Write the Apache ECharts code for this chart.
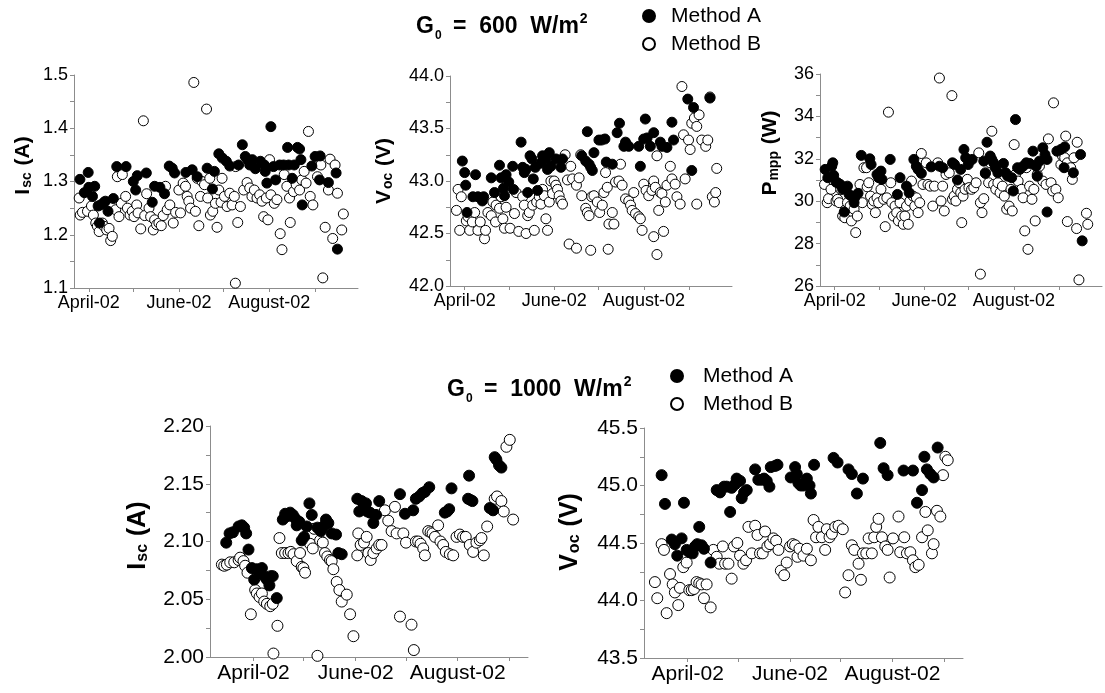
<!doctype html>
<html>
<head>
<meta charset="utf-8">
<title>Isc, Voc, Pmpp - Method A / Method B</title>
<style>
  html, body { margin: 0; padding: 0; background: #fff; }
  #chart { width: 1105px; height: 693px; }
</style>
</head>
<body>
<div id="chart"></div>
<script src="https://cdn.jsdelivr.net/npm/echarts@6/dist/echarts.min.js"></script>
<script>
// x values are day of year 2002 (April 1 = 91, June 1 = 152, August 1 = 213)
var monthTickDays = [91, 121, 152, 182, 213, 244];
var monthLabelDays = [91, 152, 213];
var monthLabels = ['April-02', 'June-02', 'August-02'];
var seriesNames = ['Method A', 'Method B'];

// G0 = 600 W/m2, Isc (A)
var isc600A = [[85,1.304],[88,1.279],[90.6,1.317],[91,1.289],[93.5,1.272],[95,1.291],[97.3,1.254],[99,1.256],[101.3,1.261],[98.2,1.222],[102.2,1.263],[104,1.244],[107.6,1.268],[109.9,1.328],[116.2,1.328],[121.1,1.300],[122.7,1.284],[123.8,1.311],[129.9,1.316],[133.9,1.261],[135.5,1.291],[139.1,1.289],[142.2,1.277],[145.4,1.329],[147.4,1.325],[149,1.316],[156.6,1.317],[160.9,1.322],[164.3,1.309],[171,1.325],[174.6,1.286],[175.9,1.319],[178.9,1.352],[181.3,1.344],[184,1.338],[186.3,1.329],[192.3,1.331],[194.8,1.369],[196.8,1.347],[198.4,1.341],[199.8,1.331],[201.6,1.341],[203.6,1.324],[207,1.338],[209.7,1.331],[210.3,1.319],[211.4,1.297],[214.1,1.403],[215.9,1.328],[217.3,1.303],[220,1.331],[222.7,1.331],[225.4,1.364],[226.1,1.331],[228.5,1.306],[229.9,1.331],[232.1,1.364],[233.5,1.361],[234.4,1.341],[235.3,1.256],[241.8,1.329],[244,1.347],[247.4,1.348],[247,1.303],[253,1.298],[258.2,1.316],[259.1,1.173]];
var isc600B = [[84.5,1.269],[85.2,1.237],[86.7,1.242],[90.1,1.244],[92.8,1.254],[94.1,1.237],[95.7,1.222],[96.8,1.216],[98,1.206],[100.2,1.222],[101.3,1.216],[103.1,1.209],[104.7,1.212],[105.8,1.189],[106.9,1.197],[109.2,1.247],[111.4,1.234],[113,1.259],[110.3,1.309],[113.7,1.313],[115.9,1.272],[117.1,1.250],[118.9,1.237],[120.4,1.244],[121.6,1.234],[123.4,1.256],[124.3,1.241],[126.1,1.211],[127.9,1.414],[128.8,1.236],[130.1,1.277],[131.7,1.250],[132.8,1.234],[134.6,1.209],[135.5,1.228],[136.8,1.219],[138.4,1.222],[140,1.217],[141.3,1.236],[142.9,1.291],[144,1.247],[145.8,1.256],[148.1,1.222],[149.7,1.242],[151.9,1.284],[153,1.241],[154.8,1.297],[156.4,1.291],[157.5,1.272],[158.6,1.263],[159.8,1.250],[162,1.486],[163.1,1.244],[164.3,1.306],[165.4,1.217],[166.5,1.272],[167.6,1.300],[169.2,1.294],[170.6,1.436],[171.4,1.269],[172.8,1.306],[173.2,1.237],[174.8,1.244],[176.6,1.259],[177.7,1.214],[178.9,1.284],[180.4,1.261],[181.1,1.306],[182.7,1.272],[184.5,1.253],[186.3,1.278],[187.9,1.256],[189.4,1.272],[190.3,1.328],[191.7,1.223],[193.5,1.253],[195.7,1.284],[198,1.298],[199.8,1.288],[201.3,1.272],[202.9,1.284],[204.7,1.269],[206.5,1.275],[208.1,1.263],[209.2,1.234],[211,1.269],[212.1,1.228],[213.2,1.341],[214.1,1.275],[216.4,1.259],[218.2,1.266],[220.4,1.202],[221.6,1.172],[223.1,1.313],[224.9,1.291],[226.7,1.269],[227.2,1.223],[229.4,1.281],[231.2,1.294],[233.5,1.284],[235,1.303],[236.6,1.319],[237.9,1.297],[239.5,1.394],[240.7,1.272],[242.5,1.256],[245.6,1.309],[247.9,1.331],[249.2,1.119],[250.8,1.214],[253,1.284],[254.1,1.342],[255.9,1.193],[257.5,1.331],[259.1,1.278],[262,1.209],[263.1,1.239],[190.1,1.109]];

// G0 = 600 W/m2, Voc (V)
var voc600A = [[89.4,43.19],[91,43.08],[91.7,42.96],[92.6,42.70],[96.6,42.85],[98.4,43.06],[100,42.85],[103,42.81],[103.9,42.85],[109.1,43.03],[111.3,42.89],[114.7,43.15],[115.8,43.03],[117.4,42.93],[118.1,42.86],[119.2,43.06],[121,42.99],[123.7,43.14],[124.2,42.92],[129.4,43.37],[130.5,43.13],[131.6,43.08],[132.8,43.11],[133.9,42.89],[135.5,43.24],[136.8,43.21],[137.7,43.02],[139.1,43.13],[140.6,42.91],[142.9,43.17],[144,43.24],[146.3,43.21],[147.4,43.11],[148.6,43.27],[149.7,43.14],[153.1,43.21],[156.5,43.13],[157.6,43.21],[170.7,43.24],[173.4,43.19],[174.5,43.47],[175.7,43.16],[176.8,43.13],[177.9,43.10],[179,43.27],[182.4,43.39],[184.2,43.39],[186.5,43.40],[187.4,43.18],[191.5,43.16],[194.8,43.46],[196.4,43.55],[199.4,43.33],[200.5,43.37],[202.7,43.33],[209.5,43.33],[210.6,43.14],[212.9,43.40],[214,43.59],[215.2,43.41],[217.4,43.33],[219.7,43.46],[224.2,43.37],[225.3,43.33],[228.7,43.32],[232.1,43.56],[233.2,43.39],[242.9,43.78],[246.8,43.70],[245.6,43.10],[258,43.79]];
var voc600B = [[85.4,42.72],[86.5,42.92],[87.6,42.53],[88.7,42.85],[92.1,42.62],[93.3,42.66],[94.4,42.53],[96.2,42.61],[97.8,42.70],[100,42.53],[101.6,42.61],[104.5,42.45],[105.2,42.53],[106.8,42.70],[109.1,42.67],[110.2,42.80],[112,42.61],[112.4,42.77],[114.7,42.74],[115.8,42.85],[117,42.64],[118.1,42.55],[119.2,42.75],[121.9,42.55],[124.9,42.69],[126,42.89],[127.8,42.52],[130.5,42.85],[131.6,42.77],[132.8,42.50],[133.9,42.67],[135,42.70],[137.3,42.77],[138.4,42.53],[140,42.80],[141.8,42.85],[142.9,42.78],[144,42.92],[145.2,42.86],[146.3,42.64],[147.4,42.53],[148.6,42.80],[149.7,43.00],[150.8,42.88],[151.9,43.00],[153.1,42.96],[154.2,42.92],[155.3,42.86],[156.5,42.81],[157.6,42.78],[159.4,43.25],[161,43.01],[162.1,42.40],[163.2,43.14],[164.4,43.02],[167.1,42.96],[167.1,42.36],[168.9,43.03],[170,43.25],[170.7,42.86],[173.4,42.74],[174.5,42.70],[175.7,42.67],[176.8,42.34],[177.5,42.85],[179,42.86],[181.3,42.80],[182.9,42.70],[184.7,42.77],[185.8,42.89],[186.9,43.08],[188.1,42.94],[188.7,42.35],[189.2,42.59],[191.5,42.70],[192.6,42.59],[193.7,42.99],[196,43.00],[197.1,43.16],[198.2,42.96],[200.5,42.83],[202.7,42.81],[203.9,42.77],[205,42.72],[206.1,42.89],[207.3,42.69],[209.5,42.66],[210.6,42.64],[211.8,42.53],[212.9,42.97],[214.5,42.91],[216.3,42.86],[218.5,42.91],[219.7,43.00],[219.7,42.47],[220.8,42.94],[221.9,43.24],[221.9,42.30],[223.1,42.72],[224.2,42.89],[225.3,42.88],[226.4,42.52],[227.6,42.80],[228.7,42.96],[231,43.14],[232.1,43.02],[234.3,42.97],[235.5,42.85],[237.7,42.78],[238.9,43.90],[240,43.44],[241.1,43.02],[243.4,43.39],[244.5,43.30],[245.6,43.55],[247.4,43.60],[249,43.52],[250.6,43.63],[252.4,43.39],[255.1,43.33],[256.5,43.39],[258,43.80],[249,42.78],[259.6,42.85],[261,42.80],[261.9,42.89],[262.6,43.12]];

// G0 = 600 W/m2, Pmpp (W)
var pmpp600A = [[84.5,31.50],[86.3,31.11],[89,31.65],[89.7,31.81],[90.3,31.22],[91.9,30.90],[93,30.87],[94.8,30.79],[96.4,30.56],[97.5,29.49],[98.6,30.64],[99.7,30.71],[100.8,30.32],[102.4,30.24],[104.2,29.93],[104.6,30.16],[106.9,30.37],[109.1,32.16],[114.9,32.00],[115.8,31.73],[119.8,31.26],[120.9,31.11],[122.5,31.42],[123.2,31.03],[128.8,31.97],[133.7,30.32],[135.5,31.11],[139.9,30.71],[141.7,30.40],[144.9,31.97],[146.6,31.65],[147.8,31.50],[150,31.31],[156.7,31.62],[162.3,31.65],[164.5,31.58],[171.2,31.81],[172.6,31.73],[174.6,31.00],[176.8,31.50],[179,32.44],[180.2,32.05],[181.9,31.73],[184.6,31.97],[192.5,31.89],[193.6,31.31],[194.7,32.78],[196.9,32.13],[198,31.97],[199.2,31.81],[200.3,31.58],[202.1,31.34],[205.9,31.78],[207.4,31.34],[208.8,31.18],[211.5,31.11],[212.6,30.48],[214.1,33.85],[215.5,31.58],[217,31.50],[219.3,31.65],[221.5,31.81],[223.7,31.78],[226,32.36],[228.2,31.65],[228.9,31.18],[230.4,31.89],[232.7,32.52],[234.2,32.20],[235.6,31.97],[235.6,29.49],[242.3,32.36],[245,32.44],[247.6,32.56],[247.2,31.58],[253.5,31.34],[258.4,32.20],[259.5,28.13]];
var pmpp600B = [[84.1,30.79],[85.9,29.93],[86.8,30.12],[88.5,30.56],[91.9,30.01],[93,30.09],[94.1,29.93],[95.2,30.56],[96.4,29.30],[97.9,29.22],[98.6,29.62],[99.7,29.93],[101.5,29.77],[102.4,29.07],[104.2,29.62],[105.3,28.52],[106.4,29.30],[108.2,30.79],[109.8,29.93],[110.9,31.58],[112.7,31.58],[113.1,30.68],[114.2,30.87],[115.4,30.24],[116.5,29.85],[117.6,30.01],[118.7,29.46],[119.8,30.16],[120.9,29.93],[122.5,30.56],[124.3,30.09],[125.4,28.80],[126.5,30.16],[127.6,34.20],[129.2,30.87],[129.9,29.93],[131,29.30],[132.1,29.77],[133.2,29.46],[134.4,29.07],[135.5,29.93],[136.6,29.30],[137.7,28.91],[138.8,29.30],[139.9,29.77],[141.1,28.91],[142.2,30.01],[143.3,30.95],[144.4,30.24],[145.5,29.77],[146.6,30.16],[147.8,29.46],[148.9,29.93],[150,32.25],[151.1,30.79],[153.3,31.81],[154.5,30.79],[156,30.71],[157.8,29.77],[158.9,30.71],[161.2,31.81],[162.3,35.81],[163.4,30.01],[164.5,30.71],[165.6,29.54],[166.8,31.26],[169,31.34],[170.8,34.98],[171.2,30.09],[172.3,30.24],[173.5,30.01],[174.6,30.56],[175.7,30.87],[176.8,30.40],[177.5,28.99],[178.4,30.24],[179.7,30.56],[181.3,31.03],[182.4,30.64],[184.2,30.56],[185.7,30.64],[187.3,30.87],[189.1,32.28],[190.2,29.93],[190.2,26.56],[191.3,29.46],[192.5,30.12],[193.6,31.34],[195.8,30.87],[196.9,31.81],[198,33.30],[199.2,30.79],[200.7,30.56],[202.1,30.87],[203.6,30.40],[205.2,30.71],[206.5,30.24],[208.1,29.62],[209.7,29.77],[211,30.56],[211.9,29.54],[213.2,32.67],[214.1,31.26],[215.9,30.95],[218.2,30.56],[219.3,30.16],[220.4,28.60],[221.5,31.58],[222.6,27.73],[223.7,30.71],[225.3,30.09],[226.6,30.56],[227.5,29.07],[228.9,31.26],[230.4,31.65],[232.7,30.95],[234.9,30.79],[236.5,32.94],[238.3,30.87],[239.4,30.48],[240,34.64],[241.6,30.56],[243.2,30.16],[245,31.73],[246.1,32.13],[247.6,32.05],[248.3,33.07],[249.4,31.81],[249.4,29.04],[251.7,31.58],[252.8,31.03],[253.9,32.05],[255.7,28.71],[256.1,32.78],[257.3,26.29],[262.4,29.43],[263.3,28.91]];

// G0 = 1000 W/m2, Isc (A)
var isc1000A = [[74.7,2.099],[76.7,2.107],[78.7,2.108],[82.1,2.113],[84,2.114],[85.4,2.112],[86.6,2.107],[88,2.093],[90,2.077],[91.4,2.067],[93,2.076],[95,2.073],[96,2.077],[97.4,2.070],[99,2.067],[100.5,2.062],[101.3,2.070],[102.5,2.070],[104.9,2.051],[108.5,2.119],[109.9,2.124],[111.3,2.122],[112.9,2.125],[114.5,2.123],[115.9,2.120],[116.8,2.114],[118.4,2.117],[119.8,2.101],[121.2,2.104],[122.8,2.113],[124.4,2.133],[125.8,2.123],[129.2,2.112],[131.2,2.109],[132.7,2.113],[134.3,2.119],[135.7,2.116],[137.7,2.107],[140.3,2.106],[141.7,2.090],[143.7,2.089],[153,2.137],[154.2,2.126],[155.6,2.135],[157,2.129],[158.2,2.133],[159,2.126],[160.6,2.125],[162.6,2.116],[164.2,2.123],[166.1,2.135],[178.5,2.141],[181.5,2.124],[186.4,2.127],[188,2.137],[190,2.139],[192,2.142],[193.4,2.143],[196,2.147],[205.3,2.125],[206.7,2.126],[207.9,2.128],[209.3,2.146],[219.8,2.157],[219.2,2.137],[220.6,2.136],[221.8,2.135],[232.2,2.129],[234.1,2.127],[235.1,2.173],[236.1,2.171],[237.7,2.166],[239.1,2.164]];
var isc1000B = [[72.1,2.080],[73.5,2.079],[75.1,2.080],[77.1,2.082],[79.5,2.082],[82.1,2.084],[83,2.086],[85,2.083],[86,2.079],[87.4,2.073],[89.4,2.037],[92,2.058],[93,2.055],[94.6,2.052],[96,2.055],[97.4,2.048],[99,2.046],[101,2.044],[102.5,2.046],[102.9,2.003],[105.3,2.027],[106.5,2.103],[107.9,2.090],[109.9,2.090],[111.9,2.090],[113.3,2.091],[114.9,2.089],[116.8,2.083],[118.8,2.090],[119.8,2.078],[120.8,2.077],[121.8,2.073],[124.8,2.098],[126.4,2.094],[127.2,2.111],[129.2,2.001],[130.8,2.101],[132.4,2.099],[133.7,2.090],[135.1,2.087],[136.7,2.084],[137.7,2.083],[138.7,2.076],[140.7,2.065],[142.3,2.058],[143.7,2.048],[146.7,2.054],[148.7,2.037],[150.7,2.018],[153,2.088],[153.6,2.107],[155,2.097],[157,2.099],[158.6,2.104],[159.6,2.090],[161,2.084],[162.6,2.090],[164.6,2.094],[166.1,2.097],[167.5,2.097],[169.5,2.127],[171.5,2.118],[173.5,2.109],[175.5,2.130],[176.5,2.107],[178.5,2.035],[180.5,2.107],[182.1,2.099],[185.4,2.028],[186.8,2.006],[188,2.100],[189.4,2.100],[190.8,2.098],[192.4,2.094],[193.4,2.088],[195.4,2.109],[196.8,2.108],[198,2.107],[199.4,2.104],[201.3,2.114],[202.7,2.100],[204.3,2.097],[205.9,2.091],[208.3,2.089],[210.3,2.088],[212.3,2.104],[214.3,2.106],[216.2,2.104],[217.8,2.104],[220.2,2.097],[222.2,2.091],[224.2,2.099],[226.2,2.101],[227.2,2.103],[228.6,2.088],[230.6,2.113],[235.1,2.137],[236.5,2.139],[239.1,2.135],[240.5,2.126],[242.1,2.182],[244.1,2.188],[246.1,2.119]];

// G0 = 1000 W/m2, Voc (V)
var voc1000A = [[75.5,45.09],[77.5,44.84],[81.5,44.53],[83.4,44.49],[84.8,44.39],[87.4,44.54],[88.8,44.85],[90.4,44.44],[92,44.42],[94,44.41],[95.4,44.47],[96.7,44.49],[97.9,44.64],[99.3,44.48],[100.7,44.45],[104.7,44.33],[108.3,44.96],[110.3,44.94],[112.7,44.99],[114.3,44.99],[116.3,44.77],[117.2,44.98],[119.2,45.01],[120.2,45.06],[122.2,45.04],[123.2,44.89],[124.6,44.94],[126.2,44.96],[131.2,45.14],[133.1,45.05],[135.1,45.05],[136.5,45.06],[138.1,45.04],[139.7,44.99],[140.5,45.16],[143.1,45.17],[144.5,45.18],[152.4,45.07],[155,45.16],[156,45.10],[157,45.02],[158.4,45.00],[160,45.00],[162,45.06],[163.6,45.00],[164.4,44.93],[166.3,45.18],[177.9,45.24],[180.3,45.20],[186.8,45.14],[188.8,45.10],[191.8,44.93],[195.4,45.06],[205.7,45.37],[207.7,45.15],[210.1,45.09],[219.6,45.13],[225.2,45.13],[227.6,44.85],[230.6,44.96],[232,45.25],[233.5,45.14],[235.5,45.10],[237.5,45.07],[239.9,45.33]];
var voc1000B = [[71.5,44.16],[72.9,44.02],[75.5,44.49],[76.9,44.44],[78.5,43.89],[80.5,44.23],[82.1,44.14],[83.4,44.07],[85.4,43.96],[86.4,44.11],[88.4,44.29],[90.4,44.33],[92,44.09],[93.4,44.09],[94.8,44.10],[96.3,44.16],[97.9,44.15],[99.3,44.14],[100.7,44.02],[102.3,44.14],[104.7,43.94],[106.3,44.44],[108.3,44.38],[109.9,44.32],[111.9,44.47],[113.3,44.32],[115.3,44.32],[117.2,44.19],[118.6,44.47],[120.6,44.50],[122.2,44.39],[124.2,44.32],[125.8,44.35],[127.2,44.64],[129.2,44.41],[131.2,44.65],[132.6,44.57],[134.1,44.41],[135.7,44.41],[137.1,44.60],[138.5,44.47],[140.1,44.49],[142.1,44.54],[143.7,44.52],[145.1,44.44],[146.5,44.26],[148.5,44.22],[150,44.33],[152,44.47],[153.6,44.49],[155,44.48],[156.4,44.38],[157.6,44.45],[160,44.39],[162,44.45],[164.4,44.35],[166,44.70],[167.5,44.55],[168.9,44.64],[170.9,44.55],[172.9,44.44],[173.9,44.62],[175.5,44.55],[176.9,44.58],[178.9,44.64],[180.9,44.65],[183.4,44.62],[184.8,44.07],[186.8,44.22],[188.8,44.48],[190.2,44.44],[192.8,44.32],[194.2,44.18],[195.4,44.41],[197.4,44.41],[198.8,44.54],[200.7,44.41],[202.1,44.55],[203.3,44.64],[204.7,44.71],[206.7,44.55],[208.7,44.47],[210.1,44.44],[211.3,44.20],[213.3,44.54],[216.6,44.73],[217.6,44.42],[220,44.55],[221.6,44.41],[223.6,44.42],[225.2,44.35],[226.6,44.29],[228.6,44.31],[230.6,44.55],[232.6,44.77],[234,44.61],[236.5,44.41],[237.5,44.49],[239.5,44.78],[241.5,44.73],[243.1,45.09],[244.5,45.25],[245.9,45.22]];

var font = '"Liberation Sans", Arial, Helvetica, sans-serif';
var axisGray = '#8c8c8c';

var panels = [
    {grid: {left: 74, top: 75, width: 284, height: 213}, xMin: 81, xMax: 273,
     yMin: 1.1, yMax: 1.5, yStep: 0.1, digits: 1, name: 'I{s|sc} (A)', lift: 32, nameGap: 40,
     a: isc600A, b: isc600B, fs: 18, nameFs: 21, subFs: 14, sym: 10},
    {grid: {left: 450, top: 76, width: 282, height: 210}, xMin: 81, xMax: 273,
     yMin: 42, yMax: 44, yStep: 0.5, digits: 1, name: 'V{s|oc} (V)', lift: 20, nameGap: 55,
     a: voc600A, b: voc600B, fs: 18, nameFs: 21, subFs: 14, sym: 10},
    {grid: {left: 820, top: 74, width: 282, height: 212}, xMin: 81, xMax: 273,
     yMin: 26, yMax: 36, yStep: 2, digits: 0, name: 'P{s|mpp} (W)', lift: 54, nameGap: 39,
     a: pmpp600A, b: pmpp600B, fs: 18, nameFs: 21, subFs: 14, sym: 10},
    {grid: {left: 210, top: 426, width: 318, height: 231}, xMin: 65, xMax: 255,
     yMin: 2.0, yMax: 2.2, yStep: 0.05, digits: 2, name: 'I{s|sc} (A)', lift: 12, nameGap: 59,
     a: isc1000A, b: isc1000B, fs: 21, nameFs: 25, subFs: 16, sym: 11},
    {grid: {left: 644, top: 428, width: 319, height: 230}, xMin: 65, xMax: 255,
     yMin: 43.5, yMax: 45.5, yStep: 0.5, digits: 1, name: 'V{s|oc} (V)', lift: 22, nameGap: 61,
     a: voc1000A, b: voc1000B, fs: 21, nameFs: 25, subFs: 16, sym: 11}
];

var grids = [], xAxes = [], yAxes = [], series = [];

panels.forEach(function (p, i) {
    var g = p.grid;
    grids.push({left: g.left, top: g.top, width: g.width, height: g.height,
                containLabel: false, outerBoundsMode: 'none'});
    xAxes.push({
        gridIndex: i, type: 'value', min: p.xMin, max: p.xMax,
        axisLine: {show: true, onZero: false, lineStyle: {color: axisGray, width: 1}},
        axisTick: {show: true, length: 4, customValues: monthTickDays, lineStyle: {color: axisGray}},
        axisLabel: {
            customValues: monthLabelDays,
            formatter: function (v) { return monthLabels[monthLabelDays.indexOf(v)] || ''; },
            color: '#000', fontSize: p.fs, fontFamily: font, margin: 6
        },
        splitLine: {show: false}
    });
    yAxes.push({
        gridIndex: i, type: 'value', min: p.yMin, max: p.yMax, interval: p.yStep,
        axisLine: {show: true, onZero: false, lineStyle: {color: axisGray, width: 1}},
        axisTick: {show: true, length: 4, lineStyle: {color: axisGray}},
        minorTick: {show: true, splitNumber: 2, length: 4, lineStyle: {color: axisGray}},
        axisLabel: {
            formatter: function (v) { return v.toFixed(p.digits); },
            color: '#000', fontSize: p.fs, fontFamily: font, margin: 6
        },
        splitLine: {show: false},
        name: p.name, nameLocation: 'middle', nameGap: p.nameGap, nameRotate: 90,
        nameTextStyle: {
            color: '#000', fontSize: p.nameFs, fontWeight: 'bold', fontFamily: font,
            padding: [0, 0, 0, p.lift],
            rich: {
                s: {fontSize: p.subFs, fontWeight: 'bold', fontFamily: font, color: '#000',
                    verticalAlign: 'bottom', lineHeight: p.subFs, padding: [0, 1, 0, 1]}
            }
        }
    });
    series.push({
        type: 'scatter', name: seriesNames[1], xAxisIndex: i, yAxisIndex: i,
        data: p.b, symbol: 'circle', symbolSize: p.sym,
        itemStyle: {color: '#fff', borderColor: '#000', borderWidth: 1, opacity: 1}
    });
    series.push({
        type: 'scatter', name: seriesNames[0], xAxisIndex: i, yAxisIndex: i,
        data: p.a, symbol: 'circle', symbolSize: p.sym,
        itemStyle: {color: '#000', borderColor: '#000', borderWidth: 1, opacity: 1}
    });
});

function titleStyle(size) {
    return {
        color: '#000', fontSize: size, fontWeight: 'bold', fontFamily: font,
        rich: {
            b: {fontSize: size, fontWeight: 'bold', fontFamily: font, color: '#000', lineHeight: 30},
            s: {fontSize: 12, fontWeight: 'bold', fontFamily: font, color: '#000',
                verticalAlign: 'bottom', lineHeight: 12, padding: [0, 5, 0, 1]},
            p: {fontSize: 14, fontWeight: 'bold', fontFamily: font, color: '#000',
                verticalAlign: 'top', lineHeight: 14, padding: [0, 0, 0, 1]}
        }
    };
}

function legendAt(left, top, padLeft) {
    return {
        left: left, top: top, orient: 'vertical', icon: 'circle',
        itemWidth: 12, itemHeight: 12, itemGap: 6,
        data: seriesNames,
        selectedMode: false,
        textStyle: {color: '#000', fontSize: 21, fontFamily: font, lineHeight: 22,
                    padding: [0, 0, 0, padLeft]}
    };
}

var chart = echarts.init(document.getElementById('chart'), null, {renderer: 'canvas'});
chart.setOption({
    backgroundColor: '#fff',
    animation: false,
    title: [
        {text: '{b|G}{s|0}{b| =  600  W/m}{p|2}', left: 411, top: 7, textStyle: titleStyle(23)},
        {text: '{b|G}{s|0}{b| =  1000  W/m}{p|2}', left: 442, top: 370, textStyle: titleStyle(23)}
    ],
    legend: [legendAt(637, 0, 11), legendAt(665, 360, 15)],
    grid: grids,
    xAxis: xAxes,
    yAxis: yAxes,
    series: series
});
</script>
</body>
</html>
